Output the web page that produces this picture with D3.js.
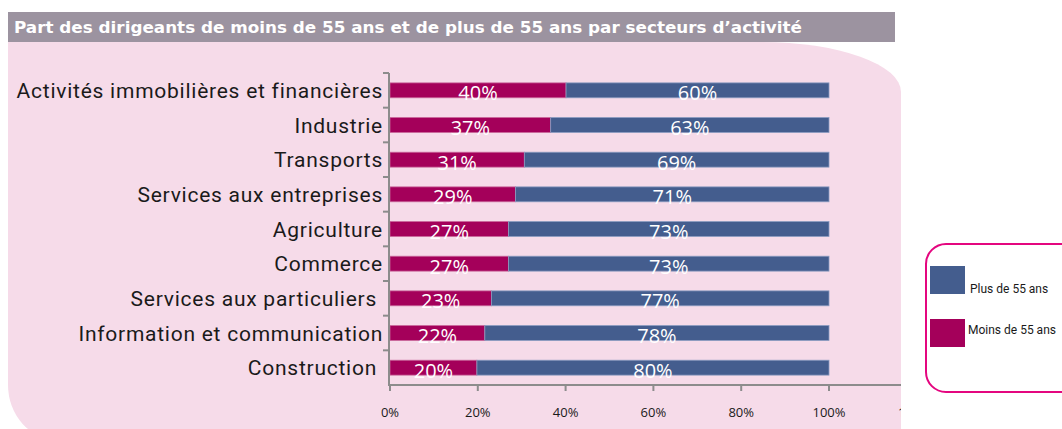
<!DOCTYPE html>
<html><head><meta charset="utf-8">
<script src="https://cdn.jsdelivr.net/npm/d3@7"></script>
<style>
html,body{margin:0;padding:0;background:#fff;}
svg{display:block;}
</style></head>
<body>
<script>
const title = "Part des dirigeants de moins de 55 ans et de plus de 55 ans par secteurs d’activité";
const categories = [
  "Activités immobilières et financières",
  "Industrie",
  "Transports",
  "Services aux entreprises",
  "Agriculture",
  "Commerce",
  "Services aux particuliers ",
  "Information et communication",
  "Construction "
];
const moins = [40.1, 36.6, 30.6, 28.6, 27.0, 27.0, 23.1, 21.6, 19.8];
const plus  = [59.9, 63.4, 69.4, 71.4, 73.0, 73.0, 76.9, 78.4, 80.2];
const xTicks = [0, 20, 40, 60, 80, 100, 120];
const seriesNames = ["Plus de 55 ans", "Moins de 55 ans"];
const colors = {moins: "#a4005a", plus: "#445d8e"};

const W = 1062, H = 429;
const svg = d3.select("body").append("svg").attr("width", W).attr("height", H);

// pink background shape
svg.append("path")
  .attr("d", "M8,42 L762,42 A139,50 0 0 1 901,92 L901,440 L58,440 A50,55 0 0 1 8,385 Z")
  .attr("fill", "#f6dbe9");

// title bar
svg.append("rect").attr("x", 8).attr("y", 12).attr("width", 887).attr("height", 30).attr("fill", "#9c93a0");
svg.append("text").attr("x", 14).attr("y", 33)
  .attr("fill", "#fff").attr("font-family", "DejaVu Sans").attr("font-weight", "bold")
  .attr("font-size", 15.5).attr("textLength", 788).attr("lengthAdjust", "spacingAndGlyphs").text(title);

svg.append("defs").append("clipPath").attr("id", "c")
  .append("rect").attr("x", 0).attr("y", 0).attr("width", 901).attr("height", H);

const g = svg.append("g").attr("clip-path", "url(#c)");

const x = d3.scaleLinear().domain([0, 100]).range([390, 829]);
const y = d3.scaleBand().domain(categories).range([73, 385]).paddingInner(0.57).paddingOuter(0.285);

// bars
categories.forEach((c, i) => {
  const y0 = y(c), bh = y.bandwidth();
  g.append("rect").attr("x", x(0)).attr("y", y0).attr("width", x(moins[i]) - x(0)).attr("height", bh)
    .attr("fill", colors.moins).attr("stroke", "#c9679a").attr("stroke-width", 0.8);
  g.append("rect").attr("x", x(moins[i])).attr("y", y0).attr("width", x(moins[i] + plus[i]) - x(moins[i])).attr("height", bh)
    .attr("fill", colors.plus).attr("stroke", "#8a9bc0").attr("stroke-width", 0.8);
  g.append("text").attr("x", (x(0) + x(moins[i])) / 2).attr("y", y0 + bh / 2 + 10)
    .attr("text-anchor", "middle").attr("fill", "#fff").attr("font-family", "Open Sans").attr("font-size", 20)
    .text(Math.round(moins[i]) + "%");
  g.append("text").attr("x", (x(moins[i]) + x(moins[i] + plus[i])) / 2).attr("y", y0 + bh / 2 + 10)
    .attr("text-anchor", "middle").attr("fill", "#fff").attr("font-family", "Open Sans").attr("font-size", 20)
    .text(Math.round(plus[i]) + "%");
});

// y axis
const axisColor = "#8c8c8c";
g.append("line").attr("x1", 389).attr("x2", 389).attr("y1", 73).attr("y2", 386).attr("stroke", axisColor).attr("stroke-width", 2);
const step = y.step();
for (let k = 0; k < categories.length; k++) {
  const yy = y(categories[k]) - y.paddingOuter() * step;
  g.append("line").attr("x1", 383).attr("x2", 389).attr("y1", yy).attr("y2", yy).attr("stroke", axisColor).attr("stroke-width", 2);
}
// category labels
categories.forEach((c, i) => {
  g.append("text").attr("x", 383).attr("y", y(c) + y.bandwidth() / 2 + 7.5)
    .attr("text-anchor", "end").attr("fill", "#1a1a1a").attr("font-family", "Roboto").attr("font-weight", 400)
    .attr("font-size", 21).attr("letter-spacing", 0.75).style("white-space", "pre").text(c);
});

// x axis
g.append("line").attr("x1", 389).attr("x2", 920).attr("y1", 385).attr("y2", 385).attr("stroke", axisColor).attr("stroke-width", 2);
xTicks.forEach(v => {
  g.append("line").attr("x1", x(v)).attr("x2", x(v)).attr("y1", 385).attr("y2", 391).attr("stroke", axisColor).attr("stroke-width", 2);
  g.append("text").attr("x", v === 120 ? 898 : x(v)).attr("y", 417).attr("text-anchor", v === 120 ? "start" : "middle")
    .attr("fill", "#1a1a1a").attr("font-family", "Open Sans").attr("font-size", 13).text(v + "%");
});

// legend
svg.append("rect").attr("x", 926).attr("y", 244).attr("width", 160).attr("height", 148).attr("rx", 20)
  .attr("fill", "#fff").attr("stroke", "#e4067f").attr("stroke-width", 2);
const leg = [{n: seriesNames[0], c: colors.plus, y: 266, ty: 293, tx: 970}, {n: seriesNames[1], c: colors.moins, y: 319, ty: 334, tx: 968}];
leg.forEach(d => {
  svg.append("rect").attr("x", 930).attr("y", d.y).attr("width", 35).attr("height", 28).attr("fill", d.c);
  svg.append("text").attr("x", d.tx).attr("y", d.ty).attr("fill", "#1a1a1a").attr("font-family", "Roboto")
    .attr("font-size", 12).text(d.n);
});
</script>
</body></html>
